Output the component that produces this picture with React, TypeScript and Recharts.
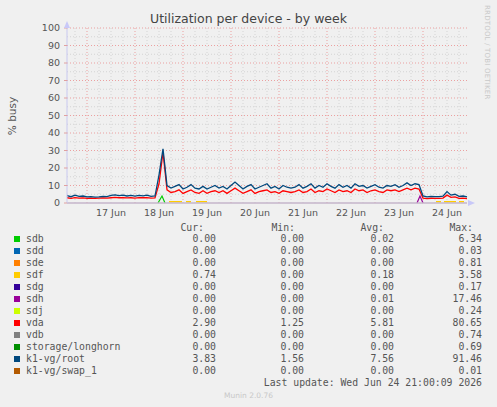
import React from 'react';
import { LineChart, Line, XAxis, YAxis, ReferenceLine } from 'recharts';

// time axis: hours after Jun 16 14:00, one sample every 2h
const hours = Array.from({ length: 101 }, (_, i) => i * 2);

const rootBusy = [
  4.2, 3.6, 4.5, 3.8, 4.0, 3.5, 3.6, 3.4, 3.5, 3.7, 3.6, 4.4, 4.6, 4.2, 4.5, 4.0, 4.3, 3.9, 4.4, 4.1,
  4.5, 3.8, 4.0, 16.0, 31.0, 10.0, 8.5, 9.5, 10.5, 8.0, 9.0, 10.5, 8.5, 8.0, 9.5, 8.0, 9.0, 10.0, 8.5, 9.5,
  8.0, 10.0, 12.0, 10.0, 8.0, 9.5, 10.5, 8.0, 9.0, 10.0, 11.0, 8.5, 9.5, 8.0, 10.0, 9.0, 8.5, 9.0, 10.5, 8.5,
  9.5, 11.0, 8.5, 10.0, 9.0, 11.0, 9.5, 8.5, 10.5, 9.0, 10.0, 8.5, 11.0, 9.5, 10.0, 8.5, 9.5, 10.5, 9.0, 8.5,
  10.0, 9.5, 10.5, 9.0, 10.0, 11.5, 10.0, 11.0, 10.5, 4.0, 3.5, 3.8, 3.6, 3.7, 3.9, 6.5, 4.5, 5.0, 3.8, 4.0,
  3.5,
];

const vdaBusy = [
  3.0, 2.7, 3.1, 2.8, 2.9, 2.7, 2.8, 2.7, 2.8, 2.9, 2.8, 3.0, 3.2, 3.0, 3.1, 2.9, 3.0, 2.8, 3.1, 3.0,
  3.1, 2.8, 2.9, 11.0, 29.0, 7.5, 6.0, 6.5, 7.5, 5.5, 6.5, 7.5, 6.0, 5.5, 7.0, 5.5, 6.5, 7.0, 6.0, 7.0,
  5.5, 7.0, 8.5, 7.0, 5.5, 6.5, 7.5, 5.5, 6.5, 7.0, 7.5, 6.0, 6.5, 5.5, 7.0, 6.5, 6.0, 6.5, 7.5, 6.0,
  6.5, 8.0, 6.0, 7.0, 6.5, 8.0, 7.0, 6.0, 7.5, 6.5, 7.0, 6.0, 8.0, 7.0, 7.5, 6.0, 7.0, 7.5, 6.5, 6.0,
  7.5, 7.0, 7.5, 6.5, 7.5, 8.5, 7.5, 8.5, 8.0, 2.8, 2.5, 2.7, 2.6, 2.7, 2.8, 4.5, 3.2, 3.5, 2.7, 2.8,
  2.5,
];

const sdbSpike = [
  { h: 45.5, v: 0 },
  { h: 47.5, v: 4 },
  { h: 49, v: 0 },
];

const sdhSpike = [
  { h: 175, v: 0 },
  { h: 176.5, v: 4 },
  { h: 178, v: 0 },
];

const sdfBits = [
  { h: 51, v: 0.7 }, { h: 57.5, v: 0.7 }, { h: 58.5, v: null },
  { h: 59.5, v: 0.7 }, { h: 62, v: 0.7 }, { h: 63, v: null },
  { h: 64.5, v: 0.7 }, { h: 70, v: 0.7 }, { h: 71, v: null },
  { h: 184.5, v: 0.7 }, { h: 187, v: 0.7 }, { h: 187.5, v: null },
  { h: 188.5, v: 0.7 }, { h: 194.5, v: 0.7 }, { h: 195, v: null },
  { h: 196, v: 0.7 }, { h: 198.5, v: 0.7 },
];

const dayTicks = [22, 46, 70, 94, 118, 142, 166, 190];
const dayLabels = ['17 Jun', '18 Jun', '19 Jun', '20 Jun', '21 Jun', '22 Jun', '23 Jun', '24 Jun'];
const midnights = [10, 34, 58, 82, 106, 130, 154, 178];
const sixHours = [4, 16, 22, 28, 40, 46, 52, 64, 70, 76, 88, 94, 100, 112, 118, 124, 136, 142, 148, 160, 166, 172, 184, 190, 196];
const yTicks = [0, 10, 20, 30, 40, 50, 60, 70, 80, 90, 100];
const yMinor = [5, 15, 25, 35, 45, 55, 65, 75, 85, 95];

const legendNames = ['sdb', 'sdd', 'sde', 'sdf', 'sdg', 'sdh', 'sdj', 'vda', 'vdb', 'storage/longhorn', 'k1-vg/root', 'k1-vg/swap_1'];
const legendColors = ['#00CC00', '#0066B3', '#FF8000', '#FFCC00', '#330099', '#990099', '#CCFF00', '#FF0000', '#808080', '#008F00', '#00487D', '#B35A00'];
const curVals = ['0.00', '0.00', '0.00', '0.74', '0.00', '0.00', '0.00', '2.90', '0.00', '0.00', '3.83', '0.00'];
const minVals = ['0.00', '0.00', '0.00', '0.00', '0.00', '0.00', '0.00', '1.25', '0.00', '0.00', '1.56', '0.00'];
const avgVals = ['0.02', '0.00', '0.00', '0.18', '0.00', '0.01', '0.00', '5.81', '0.00', '0.00', '7.56', '0.00'];
const maxVals = ['6.34', '0.03', '0.81', '3.58', '0.17', '17.46', '0.24', '80.65', '0.74', '0.69', '91.46', '0.01'];

const rows = hours.map((h, i) => ({ h, vda: vdaBusy[i], root: rootBusy[i] }));

const mono = '"DejaVu Sans Mono", monospace';
const sans = '"DejaVu Sans", sans-serif';
const textCol = '#555';
const minorGrid = '#D4D4D4';
const majorGrid = '#EBA0A0';

const App: React.FC = () => {
  const dayLabel = (v: number) => dayLabels[dayTicks.indexOf(v)] || '';

  const cell = (right: number, top: number, text: string) => (
    <div style={{ position: 'absolute', right: 497 - right, top, lineHeight: '12px', whiteSpace: 'pre' }}>{text}</div>
  );

  return (
    <div style={{ position: 'absolute', left: 0, top: 0, width: 497, height: 407, background: '#F0F0F0', overflow: 'hidden', fontFamily: mono, fontSize: 9.8, color: textCol }}>
      <div style={{ position: 'absolute', left: 0, width: 497, top: 11, textAlign: 'center', fontFamily: sans, fontSize: 12.5, color: '#444' }}>
        Utilization per device - by week
      </div>
      <div style={{ position: 'absolute', left: 483, top: 5, writingMode: 'vertical-rl', fontFamily: sans, fontSize: 7, color: '#C8C8C8', letterSpacing: 0.2 }}>
        RRDTOOL / TOBI OETIKER
      </div>
      <div style={{ position: 'absolute', left: 12, top: 116, transform: 'translate(-50%, -50%) rotate(-90deg)', fontFamily: sans, fontSize: 10.5, color: textCol, whiteSpace: 'nowrap' }}>
        % busy
      </div>

      <div style={{ position: 'absolute', left: 0, top: 0 }}>
        <LineChart width={497} height={230} data={rows} margin={{ top: 28, right: 30, left: 27, bottom: 7 }}>
          <YAxis
            type="number"
            domain={[0, 100]}
            ticks={yTicks}
            width={40}
            interval={0}
            tick={{ fill: textCol, fontSize: 9.5, fontFamily: sans }}
            tickSize={3}
            tickMargin={4}
            tickLine={{ stroke: '#E0A0A0' }}
            axisLine={{ stroke: '#C8C8F0' }}
          />
          <XAxis
            type="number"
            dataKey="h"
            domain={[0, 200]}
            ticks={dayTicks}
            tickFormatter={dayLabel}
            interval={0}
            height={20}
            tickLine={false}
            tickSize={4}
            tick={{ fill: textCol, fontSize: 9.5, fontFamily: sans }}
            axisLine={{ stroke: '#C8C8F0' }}
          />
          {sixHours.map((h) => (
            <ReferenceLine key={'vx' + h} x={h} stroke={minorGrid} strokeDasharray="1 2" />
          ))}
          {yMinor.map((y) => (
            <ReferenceLine key={'my' + y} y={y} stroke={minorGrid} strokeDasharray="1 2" />
          ))}
          {midnights.map((h) => (
            <ReferenceLine key={'mx' + h} x={h} stroke={majorGrid} strokeDasharray="1 2" />
          ))}
          {yTicks.filter((y) => y > 0).map((y) => (
            <ReferenceLine key={'My' + y} y={y} stroke={majorGrid} strokeDasharray="1 2" />
          ))}
          <Line data={sdbSpike} dataKey="v" stroke="#00CC00" strokeWidth={1.2} dot={false} isAnimationActive={false} />
          <Line data={sdfBits} dataKey="v" stroke="#FFCC00" strokeWidth={1.4} dot={false} isAnimationActive={false} connectNulls={false} />
          <Line data={sdhSpike} dataKey="v" stroke="#990099" strokeWidth={1.2} dot={false} isAnimationActive={false} />
          <Line dataKey="vda" stroke="#FF0000" strokeWidth={1.3} dot={false} isAnimationActive={false} />
          <Line dataKey="root" stroke="#00487D" strokeWidth={1.3} dot={false} isAnimationActive={false} />
          <ReferenceLine y={0} stroke="#C09080" strokeWidth={1.2} />
        </LineChart>
      </div>

      <svg width={497} height={407} style={{ position: 'absolute', left: 0, top: 0, pointerEvents: 'none' }}>
        <polygon points="64,28 70,28 67,21" fill="#C8C8F8" />
        <polygon points="468,200 468,206 475,203" fill="#C8C8F8" />
      </svg>

      {cell(204, 222, 'Cur:')}
      {cell(295, 222, 'Min:')}
      {cell(384, 222, 'Avg:')}
      {cell(473, 222, 'Max:')}
      {legendNames.map((name, i) => {
        const top = 233 + i * 12;
        return (
          <React.Fragment key={name}>
            <div style={{ position: 'absolute', left: 14, top: top + 3, width: 6, height: 6, background: legendColors[i] }} />
            <div style={{ position: 'absolute', left: 26, top, lineHeight: '12px', whiteSpace: 'pre' }}>{name}</div>
            {cell(216, top, curVals[i])}
            {cell(304, top, minVals[i])}
            {cell(394, top, avgVals[i])}
            {cell(482, top, maxVals[i])}
          </React.Fragment>
        );
      })}
      {cell(482, 377, 'Last update: Wed Jun 24 21:00:09 2026')}
      <div style={{ position: 'absolute', left: 0, width: 497, top: 391, textAlign: 'center', fontFamily: sans, fontSize: 7.5, color: '#C8C8C8' }}>
        Munin 2.0.76
      </div>
    </div>
  );
};

export default App;
